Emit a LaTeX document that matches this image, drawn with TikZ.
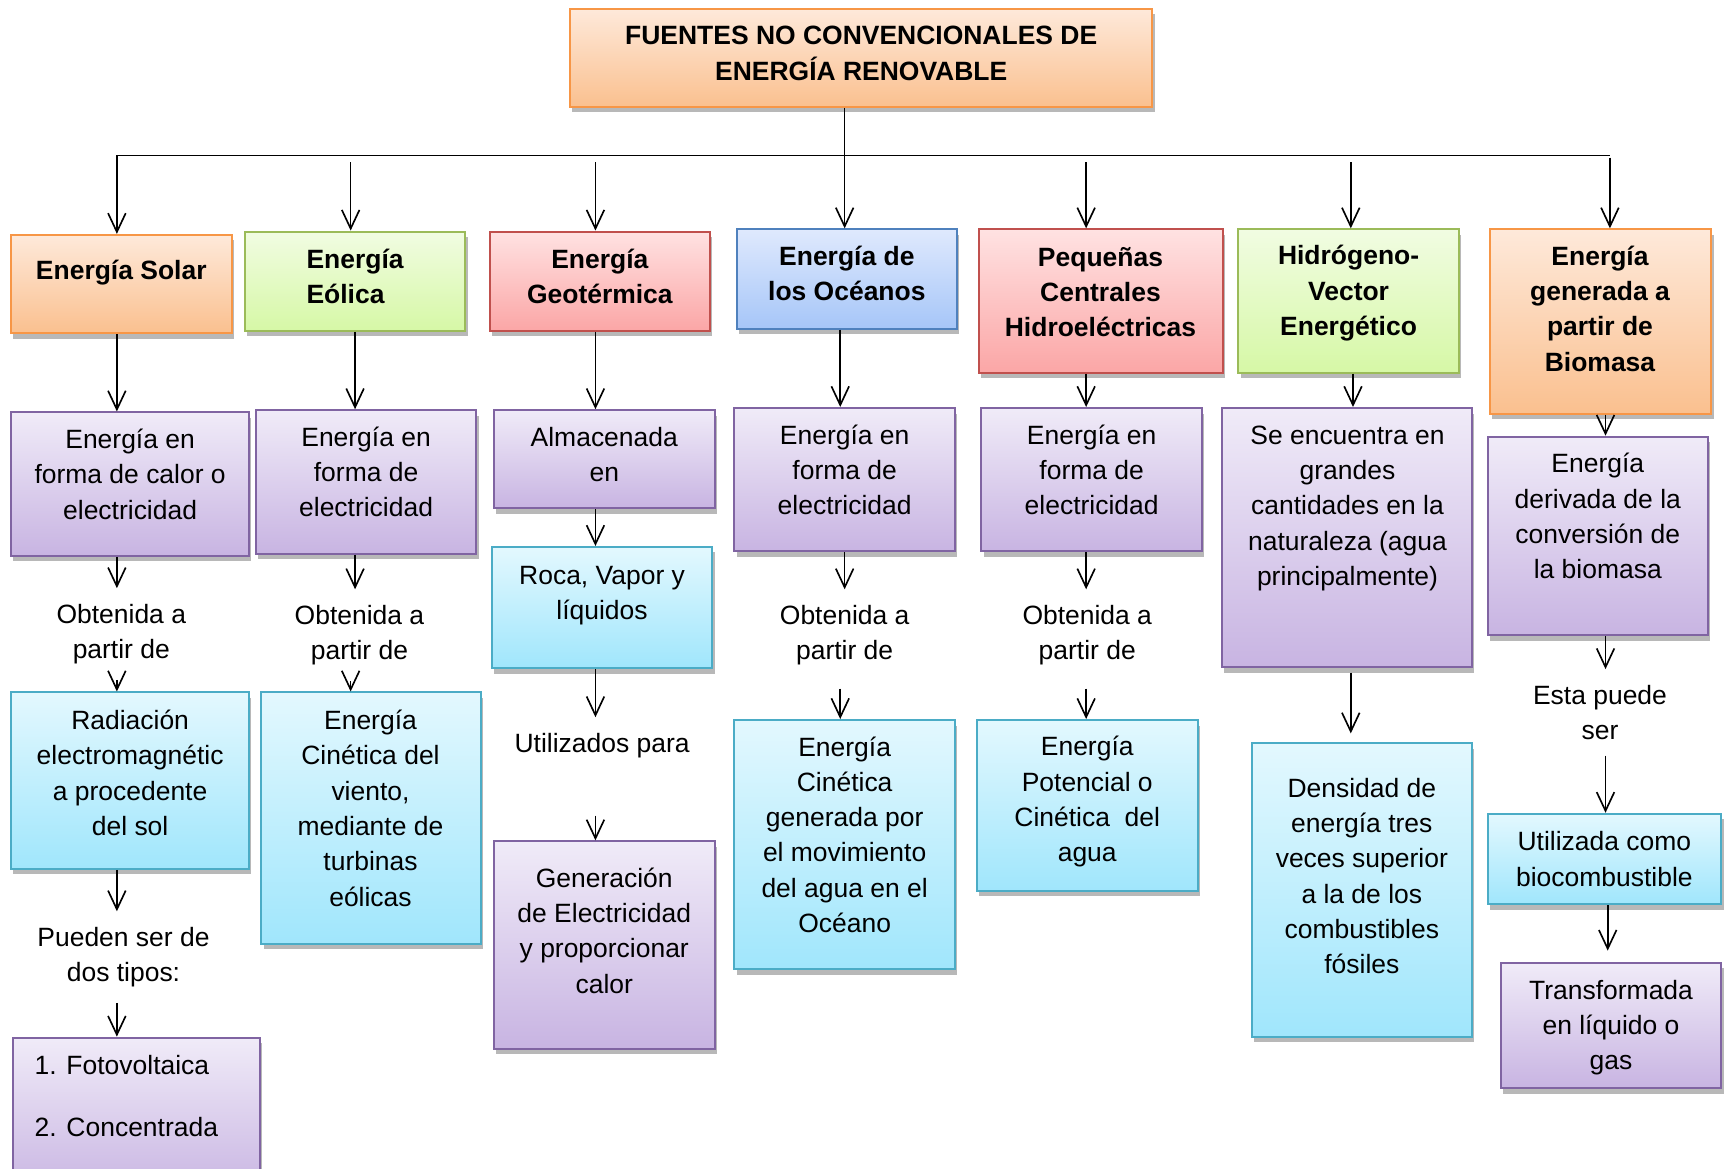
\documentclass[tikz,border=0pt]{standalone}
\usepackage{fontspec}
\setmainfont{Liberation Sans}
\usetikzlibrary{arrows.meta,shadows}
\definecolor{orB}{HTML}{F79646}\definecolor{orT}{HTML}{FEE9DA}\definecolor{orD}{HTML}{FAC08F}
\definecolor{grB}{HTML}{9BBB59}\definecolor{grT}{HTML}{F1FCE2}\definecolor{grD}{HTML}{D6F8A6}
\definecolor{rdB}{HTML}{C0504D}\definecolor{rdT}{HTML}{FFE2E2}\definecolor{rdD}{HTML}{FBA6A6}
\definecolor{blB}{HTML}{4F81BD}\definecolor{blT}{HTML}{DFE9FD}\definecolor{blD}{HTML}{A6C6F8}
\definecolor{puB}{HTML}{8064A2}\definecolor{puT}{HTML}{F0EBF8}\definecolor{puD}{HTML}{C8B4E2}
\definecolor{cyB}{HTML}{4BACC6}\definecolor{cyT}{HTML}{E3F8FE}\definecolor{cyD}{HTML}{A0E6FC}
\newcommand\mybx[6]{\node[box,#2,minimum width={(#5-#3)*0.5pt},minimum height={(#6-#4)*0.5pt}] (#1) at ({(#3+#5)/2},{(#4+#6)/2}) {};}
\begin{document}
\begin{tikzpicture}[x=0.5pt,y=-0.5pt,
  box/.style={draw,line width=0.9pt,inner sep=0pt,
    drop shadow={shadow xshift=1pt,shadow yshift=-2.5pt,opacity=0.28,fill=black}},
  orb/.style={draw=orB,top color=orT,bottom color=orD},
  grb/.style={draw=grB,top color=grT,bottom color=grD},
  rdb/.style={draw=rdB,top color=rdT,bottom color=rdD},
  blb/.style={draw=blB,top color=blT,bottom color=blD},
  pub/.style={draw=puB,top color=puT,bottom color=puD},
  cyb/.style={draw=cyB,top color=cyT,bottom color=cyD},
  txt/.style={font=\fontsize{12}{16}\selectfont,align=center,inner sep=0pt},
  ttl/.style={txt,font=\fontsize{12}{16}\selectfont\bfseries},
  lbl/.style={txt,inner xsep=2pt,inner ysep=7pt},
  arr/.style={draw,line width=0.75pt,-{Straight Barb[length=8.5pt,width=8pt]}},
  bus/.style={draw,line width=0.85pt}]
\useasboundingbox (0,0) rectangle (1568,1060);
\clip (0,0) rectangle (1568,1060);
% ---------- boxes ----------
\mybx{title}{orb}{517}{8}{1045}{97}
\mybx{solar}{orb}{10}{213}{210}{302}
\mybx{eol}{grb}{222}{210}{422}{300}
\mybx{geo}{rdb}{444}{210}{644}{300}
\mybx{oce}{blb}{668}{208}{868}{298}
\mybx{hid}{rdb}{888}{208}{1109}{338}
\mybx{hyd}{grb}{1123}{208}{1323}{338}
\mybx{bio}{orb}{1351}{208}{1552}{375}
\mybx{solarP}{pub}{10}{374}{226}{504}
\mybx{solarC}{cyb}{10}{628}{226}{788}
\mybx{solarF}{pub}{12}{941}{236}{1085}
\mybx{eolP}{pub}{232}{372}{432}{502}
\mybx{eolC}{cyb}{237}{628}{436}{856}
\mybx{geoP}{pub}{448}{372}{648}{461}
\mybx{geoC}{cyb}{446}{496}{646}{606}
\mybx{geoG}{pub}{448}{763}{648}{951}
\mybx{oceP}{pub}{666}{370}{866}{500}
\mybx{oceC}{cyb}{666}{653}{866}{879}
\mybx{hidP}{pub}{890}{370}{1090}{500}
\mybx{hidC}{cyb}{886}{653}{1086}{808}
\mybx{hydP}{pub}{1108}{370}{1335}{605}
\mybx{hydC}{cyb}{1135}{674}{1335}{940}
\mybx{bioP}{pub}{1349}{396}{1549}{576}
\mybx{bioC}{cyb}{1349}{738}{1561}{820}
\mybx{bioT}{pub}{1361}{873}{1561}{987}
% ---------- texts ----------
\node[ttl] (title-t) at (781,48.5) {FUENTES NO CONVENCIONALES DE\\ENERGÍA RENOVABLE};
\node[ttl] (solar-t) at (110,247) {Energía Solar};
\node[ttl,align=left] (eol-t) at (322,251) {Energía\\Eólica};
\node[ttl] (geo-t) at (544,251) {Energía\\Geotérmica};
\node[ttl] (oce-t) at (768,248) {Energía de\\los Océanos};
\node[ttl] (hid-t) at (998,265) {Pequeñas\\Centrales\\Hidroeléctricas};
\node[ttl] (hyd-t) at (1223,266) {Hidrógeno-\\Vector\\Energético};
\node[ttl] (bio-t) at (1451,280) {Energía\\generada a\\partir de\\Biomasa};
\node[txt] (solarP-t) at (118,430) {Energía en\\forma de calor o\\electricidad};
\node[lbl] (solarL1) at (110,575) {Obtenida a\\partir de};
\node[txt] (solarC-t) at (118,701) {Radiación\\electromagnétic\\a procedente\\del sol};
\node[lbl] (solarL2) at (112,868) {Pueden ser de\\dos tipos:};
\node[txt,align=left,anchor=west] (solarF-t) at (31,994) {1. Fotovoltaica\\[12pt]2. Concentrada};
\node[txt] (eolP-t) at (332,428) {Energía en\\forma de\\electricidad};
\node[lbl] (eolL) at (326,576) {Obtenida a\\partir de};
\node[txt] (eolC-t) at (336,733) {Energía\\Cinética del\\viento,\\mediante de\\turbinas\\eólicas};
\node[txt] (geoP-t) at (548,412) {Almacenada\\en};
\node[txt] (geoC-t) at (546,540) {Roca, Vapor y\\líquidos};
\node[lbl] (geoL) at (546,676) {Utilizados para};
\node[txt] (geoG-t) at (548,844) {Generación\\de Electricidad\\y proporcionar\\calor};
\node[txt] (oceP-t) at (766,426) {Energía en\\forma de\\electricidad};
\node[lbl] (oceL) at (766,576) {Obtenida a\\partir de};
\node[txt] (oceC-t) at (766,757) {Energía\\Cinética\\generada por\\el movimiento\\del agua en el\\Océano};
\node[txt] (hidP-t) at (990,426) {Energía en\\forma de\\electricidad};
\node[lbl] (hidL) at (986,576) {Obtenida a\\partir de};
\node[txt] (hidC-t) at (986,727) {Energía\\Potencial o\\Cinética\ \ del\\agua};
\node[txt] (hydP-t) at (1222,461) {Se encuentra en\\grandes\\cantidades en la\\naturaleza (agua\\principalmente)};
\node[txt] (hydC-t) at (1235,794.5) {Densidad de\\energía tres\\veces superior\\a la de los\\combustibles\\fósiles};
\node[txt] (bioP-t) at (1449,468) {Energía\\derivada de la\\conversión de\\la biomasa};
\node[lbl] (bioL) at (1451,646) {Esta puede\\ser};
\node[txt] (bioC-t) at (1455,779) {Utilizada como\\biocombustible};
\node[txt] (bioT-t) at (1461,932) {Transformada\\en líquido o\\gas};
% ---------- coordinates ----------
\coordinate (busL) at (106,141);
\coordinate (busR) at (1460,141);
\coordinate (xE) at (318,141);
\coordinate (xG) at (540,141);
\coordinate (xO) at (766,141);
\coordinate (xH) at (985,141);
\coordinate (xY) at (1225,141);
\coordinate (xE2) at (322,0);
\coordinate (xO2) at (762,0);
\coordinate (xY2) at (1227,0);
\coordinate (xB) at (1456,0);
\coordinate (xB2) at (1458,0);
% ---------- connectors ----------
\draw[bus] (busL) -- (busR);
\draw[arr] (title.south -| xO) -- (oce.north -| xO);
\draw[arr] (busL) -- (solar.north -| busL);
\draw[arr,shorten <=3pt] (xE) -- (eol.north -| xE);
\draw[arr,shorten <=3pt] (xG) -- (geo.north -| xG);
\draw[arr,shorten <=3pt] (xH) -- (hid.north -| xH);
\draw[arr,shorten <=3pt] (xY) -- (hyd.north -| xY);
\draw[arr,shorten <=1pt] (busR) -- (bio.north -| busR);
% solar
\draw[arr] (solar.south -| busL) -- (solarP.north -| busL);
\draw[arr] (solarP.south -| busL) -- (solarL1.north -| busL);
\draw[arr] (solarL1.south -| busL) -- (solarC.north -| busL);
\draw[arr] (solarC.south -| busL) -- (solarL2.north -| busL);
\draw[arr] (solarL2.south -| busL) -- (solarF.north -| busL);
% eolica
\draw[arr] (eol.south -| xE2) -- (eolP.north -| xE2);
\draw[arr] (eolP.south -| xE2) -- (eolL.north -| xE2);
\draw[arr] (eolL.south -| xE) -- (eolC.north -| xE);
% geotermica
\draw[arr] (geo.south -| xG) -- (geoP.north -| xG);
\draw[arr] (geoP.south -| xG) -- (geoC.north -| xG);
\draw[arr] (geoC.south -| xG) -- (geoL.north -| xG);
\draw[arr,shorten <=19pt] (geoL.south -| xG) -- (geoG.north -| xG);
% oceanos
\draw[arr] (oce.south -| xO2) -- (oceP.north -| xO2);
\draw[arr] (oceP.south -| xO) -- (oceL.north -| xO);
\draw[arr,shorten <=3.5pt] (oceL.south -| xO2) -- (oceC.north -| xO2);
% hidro
\draw[arr] (hid.south -| xH) -- (hidP.north -| xH);
\draw[arr] (hidP.south -| xH) -- (hidL.north -| xH);
\draw[arr,shorten <=3.5pt] (hidL.south -| xH) -- (hidC.north -| xH);
% hidrogeno
\draw[arr] (hyd.south -| xY2) -- (hydP.north -| xY2);
\draw[arr,shorten <=2pt,shorten >=4pt] (hydP.south -| xY) -- (hydC.north -| xY);
% biomasa
\draw[arr] (bio.south -| xB) -- (bioP.north -| xB);
\draw[arr] (bioP.south -| xB) -- (bioL.north -| xB);
\draw[arr] (bioL.south -| xB) -- (bioC.north -| xB);
\draw[arr,shorten >=5pt] (bioC.south -| xB2) -- (bioT.north -| xB2);
\end{tikzpicture}
\end{document}
